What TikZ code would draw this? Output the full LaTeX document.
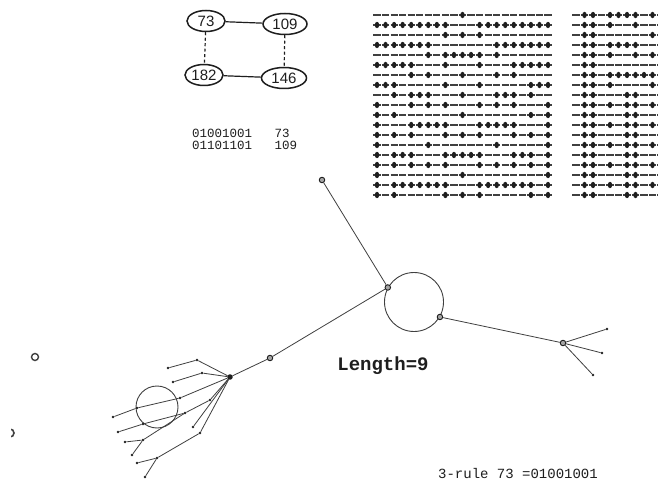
\documentclass[tikz,border=0pt]{standalone}
\usepackage{fontspec}
\setmainfont{Liberation Serif}
\setsansfont{Liberation Sans}
\setmonofont{Liberation Mono}
\usetikzlibrary{shapes.geometric,positioning}
\definecolor{ink}{HTML}{1E1E1E}
% rule 73 from one seed, ring of 21 cells
\newcommand{\caSeed}{%
{0,0,0,0,0,0,0,0,0,0,1,0,0,0,0,0,0,0,0,0,0},
{1,1,1,1,1,1,1,1,1,0,0,0,1,1,1,1,1,1,1,1,1},
{0,0,0,0,0,0,0,0,1,0,1,0,1,0,0,0,0,0,0,0,0},
{1,1,1,1,1,1,1,0,0,0,0,0,0,0,1,1,1,1,1,1,1},
{0,0,0,0,0,0,1,0,1,1,1,1,1,0,1,0,0,0,0,0,0},
{1,1,1,1,1,0,0,0,1,0,0,0,1,0,0,0,1,1,1,1,1},
{0,0,0,0,1,0,1,0,0,0,1,0,0,0,1,0,1,0,0,0,0},
{1,1,1,0,0,0,0,0,1,0,0,0,1,0,0,0,0,0,1,1,1},
{0,0,1,0,1,1,1,0,0,0,1,0,0,0,1,1,1,0,1,0,0},
{1,0,0,0,1,0,1,0,1,0,0,0,1,0,1,0,1,0,0,0,1},
{1,0,1,0,0,0,0,0,0,0,1,0,0,0,0,0,0,0,1,0,1},
{1,0,0,0,1,1,1,1,1,0,0,0,1,1,1,1,1,0,0,0,1},
{1,0,1,0,1,0,0,0,1,0,1,0,1,0,0,0,1,0,1,0,1},
{1,0,0,0,0,0,1,0,0,0,0,0,0,0,1,0,0,0,0,0,1},
{1,0,1,1,1,0,0,0,1,1,1,1,1,0,0,0,1,1,1,0,1},
{1,0,1,0,1,0,1,0,1,0,0,0,1,0,1,0,1,0,1,0,1},
{1,0,0,0,0,0,0,0,0,0,1,0,0,0,0,0,0,0,0,0,1},
{1,0,1,1,1,1,1,1,1,0,0,0,1,1,1,1,1,1,1,0,1},
{1,0,1,0,0,0,0,0,1,0,1,0,1,0,0,0,0,0,1,0,1}}
% second run, left edge only
\newcommand{\caWall}{%
{0,1,1,0,1,1,1,1,0,1,0},
{0,1,1,0,1,0,0,1,0,0,0},
{0,1,1,0,0,0,0,0,0,1,0},
{0,1,1,0,1,1,1,1,0,0,0},
{0,1,1,0,1,0,0,1,0,1,0},
{0,1,1,0,0,0,0,0,0,0,0},
{0,1,1,0,1,1,1,1,1,1,0},
{0,1,1,0,1,0,0,0,0,1,0},
{0,1,1,0,0,0,1,1,0,0,0},
{0,1,1,0,1,0,1,1,0,1,0},
{0,1,1,0,0,0,1,1,0,0,0},
{0,1,1,0,1,0,1,1,0,1,0},
{0,1,1,0,0,0,1,1,0,0,0},
{0,1,1,0,1,0,1,1,0,1,0},
{0,1,1,0,0,0,1,1,0,0,0},
{0,1,1,0,1,0,1,1,0,1,0},
{0,1,1,0,0,0,1,1,0,0,0},
{0,1,1,0,1,0,1,1,0,1,0},
{0,1,1,0,0,0,1,1,0,0,0}}
\tikzset{
  every node/.style={text=ink},
  zero/.style={draw=ink!85,line width=1.2pt},
  one/.style={ellipse,fill=ink,inner sep=0pt,minimum width=4.4pt,minimum height=6.4pt},
  state/.style={ellipse,draw=ink,line width=1.5pt,inner sep=0pt,minimum height=21pt,font=\sffamily\fontsize{15}{15}\selectfont},
  link/.style={draw=ink,line width=1.2pt},
  dashlink/.style={link,dash pattern=on 3pt off 2.5pt},
  tree/.style={draw=ink!85,line width=0.8pt},
  knot/.style={circle,draw=ink,fill=ink!40,line width=0.9pt,inner sep=0pt,minimum size=5.5pt},
  tip/.style={circle,fill=ink,inner sep=0pt,minimum size=2.6pt},
  ring/.style={circle,draw=ink!85,line width=0.9pt,inner sep=0pt},
  printout/.style={font=\ttfamily\fontsize{12.5}{12.5}\selectfont,inner sep=0pt,anchor=west},
}

\begin{document}
\begin{tikzpicture}[x=1pt,y=-1pt]
\useasboundingbox[fill=white] (0,0) rectangle (658,486);

% State graph
\node[state,minimum width=38pt] (s73) at (206,21) {73};
\node[state,minimum width=44pt] (s109) at (285,24) {109};
\node[state,minimum width=38pt] (s182) at (204,75) {182};
\node[state,minimum width=45pt] (s146) at (284,78) {146};
\draw[link] (s73) -- (s109);
\draw[link] (s182) -- (s146);
\draw[dashlink] (s73) -- (s182);
\draw[dashlink] (s109) -- (s146);

\node[printout] (bin73) at (192,133) {01001001\ \ \ 73};
\node[printout] (bin109) at (192,145) {01101101\ \ \ 109};

% Space-time patterns
\foreach \row [count=\r from 0] in \caSeed {
  \foreach \v [count=\k from 0] in \row {
    \pgfmathsetmacro{\px}{377+8.55*\k}
    \pgfmathsetmacro{\py}{15+10*\r}
    \draw[zero] (\px-3.6,\py) -- (\px+3.6,\py);
    \ifnum\v=1 \node[one] (a-\r-\k) at (\px,\py) {};\fi
  }
}
\begin{scope}
\clip (565,0) rectangle (658,210);
\foreach \row [count=\r from 0] in \caWall {
  \foreach \v [count=\k from 0] in \row {
    \pgfmathsetmacro{\px}{576+8.5*\k}
    \pgfmathsetmacro{\py}{15+10*\r}
    \draw[zero] (\px-3.6,\py) -- (\px+3.6,\py);
    \ifnum\v=1 \node[one] (b-\r-\k) at (\px,\py) {};\fi
  }
}
\end{scope}

% Basin of attraction
\node[ring,minimum size=59pt] (cyc) at (414,302) {};
\node[knot] (c1) at (cyc.151) {};
\node[knot] (c2) at (cyc.330) {};
\node[knot] (t0) at (322,180) {};
\node[knot] (t1) at (270,358) {};
\node[knot,fill=ink,minimum size=4.5pt] (hub) at (230,377) {};
\node[knot] (t2) at (563,343) {};
\node[tip] (r1) at (607,329) {};
\node[tip] (r2) at (602,353) {};
\node[tip] (r3) at (593,375) {};

% fan left of the hub
\node[ring,minimum size=42pt] (fcyc) at (157,407) {};
\foreach \n/\x/\y in {f1/197/360,f1e/168/368,f2/202/373,f2e/173/382,
  f3/180/398,f3a/137/408,f3e/113/417,f4/210/400,f4a/185/413,f4b/143/424,f4e/118/432,
  f5/193/427,f6/143/440,f6e/125/442,f6f/132/455,f7/200/433,f7a/157/458,f7e/137/463,f7f/145/477}
  \node[tip] (\n) at (\x,\y) {};

\foreach \a/\b in {t0/c1,c1/t1,t1/hub,c2/t2,t2/r1,t2/r2,t2/r3,
  hub/f1,f1/f1e,hub/f2,f2/f2e,hub/f3,f3/f3a,f3a/f3e,hub/f4,f4/f4a,f4a/f4b,f4b/f4e,
  hub/f5,f4a/f6,f6/f6e,f6/f6f,hub/f7,f7/f7a,f7a/f7e,f7a/f7f}
  \draw[tree] (\a) -- (\b);

% isolated states
\node[ring,line width=1.4pt,minimum size=7pt] (iso1) at (35,357) {};
\begin{scope}
\clip (11,420) rectangle (25,446);
\node[ring,line width=1.6pt,minimum size=8pt] (iso2) at (10,433) {};
\end{scope}

\node[font=\ttfamily\bfseries\fontsize{19}{19}\selectfont] (len) at (383,366) {Length=9};
\node[font=\ttfamily\fontsize{14}{14}\selectfont] (rule) at (518,473) {3-rule 73 =01001001};

\end{tikzpicture}
\end{document}
